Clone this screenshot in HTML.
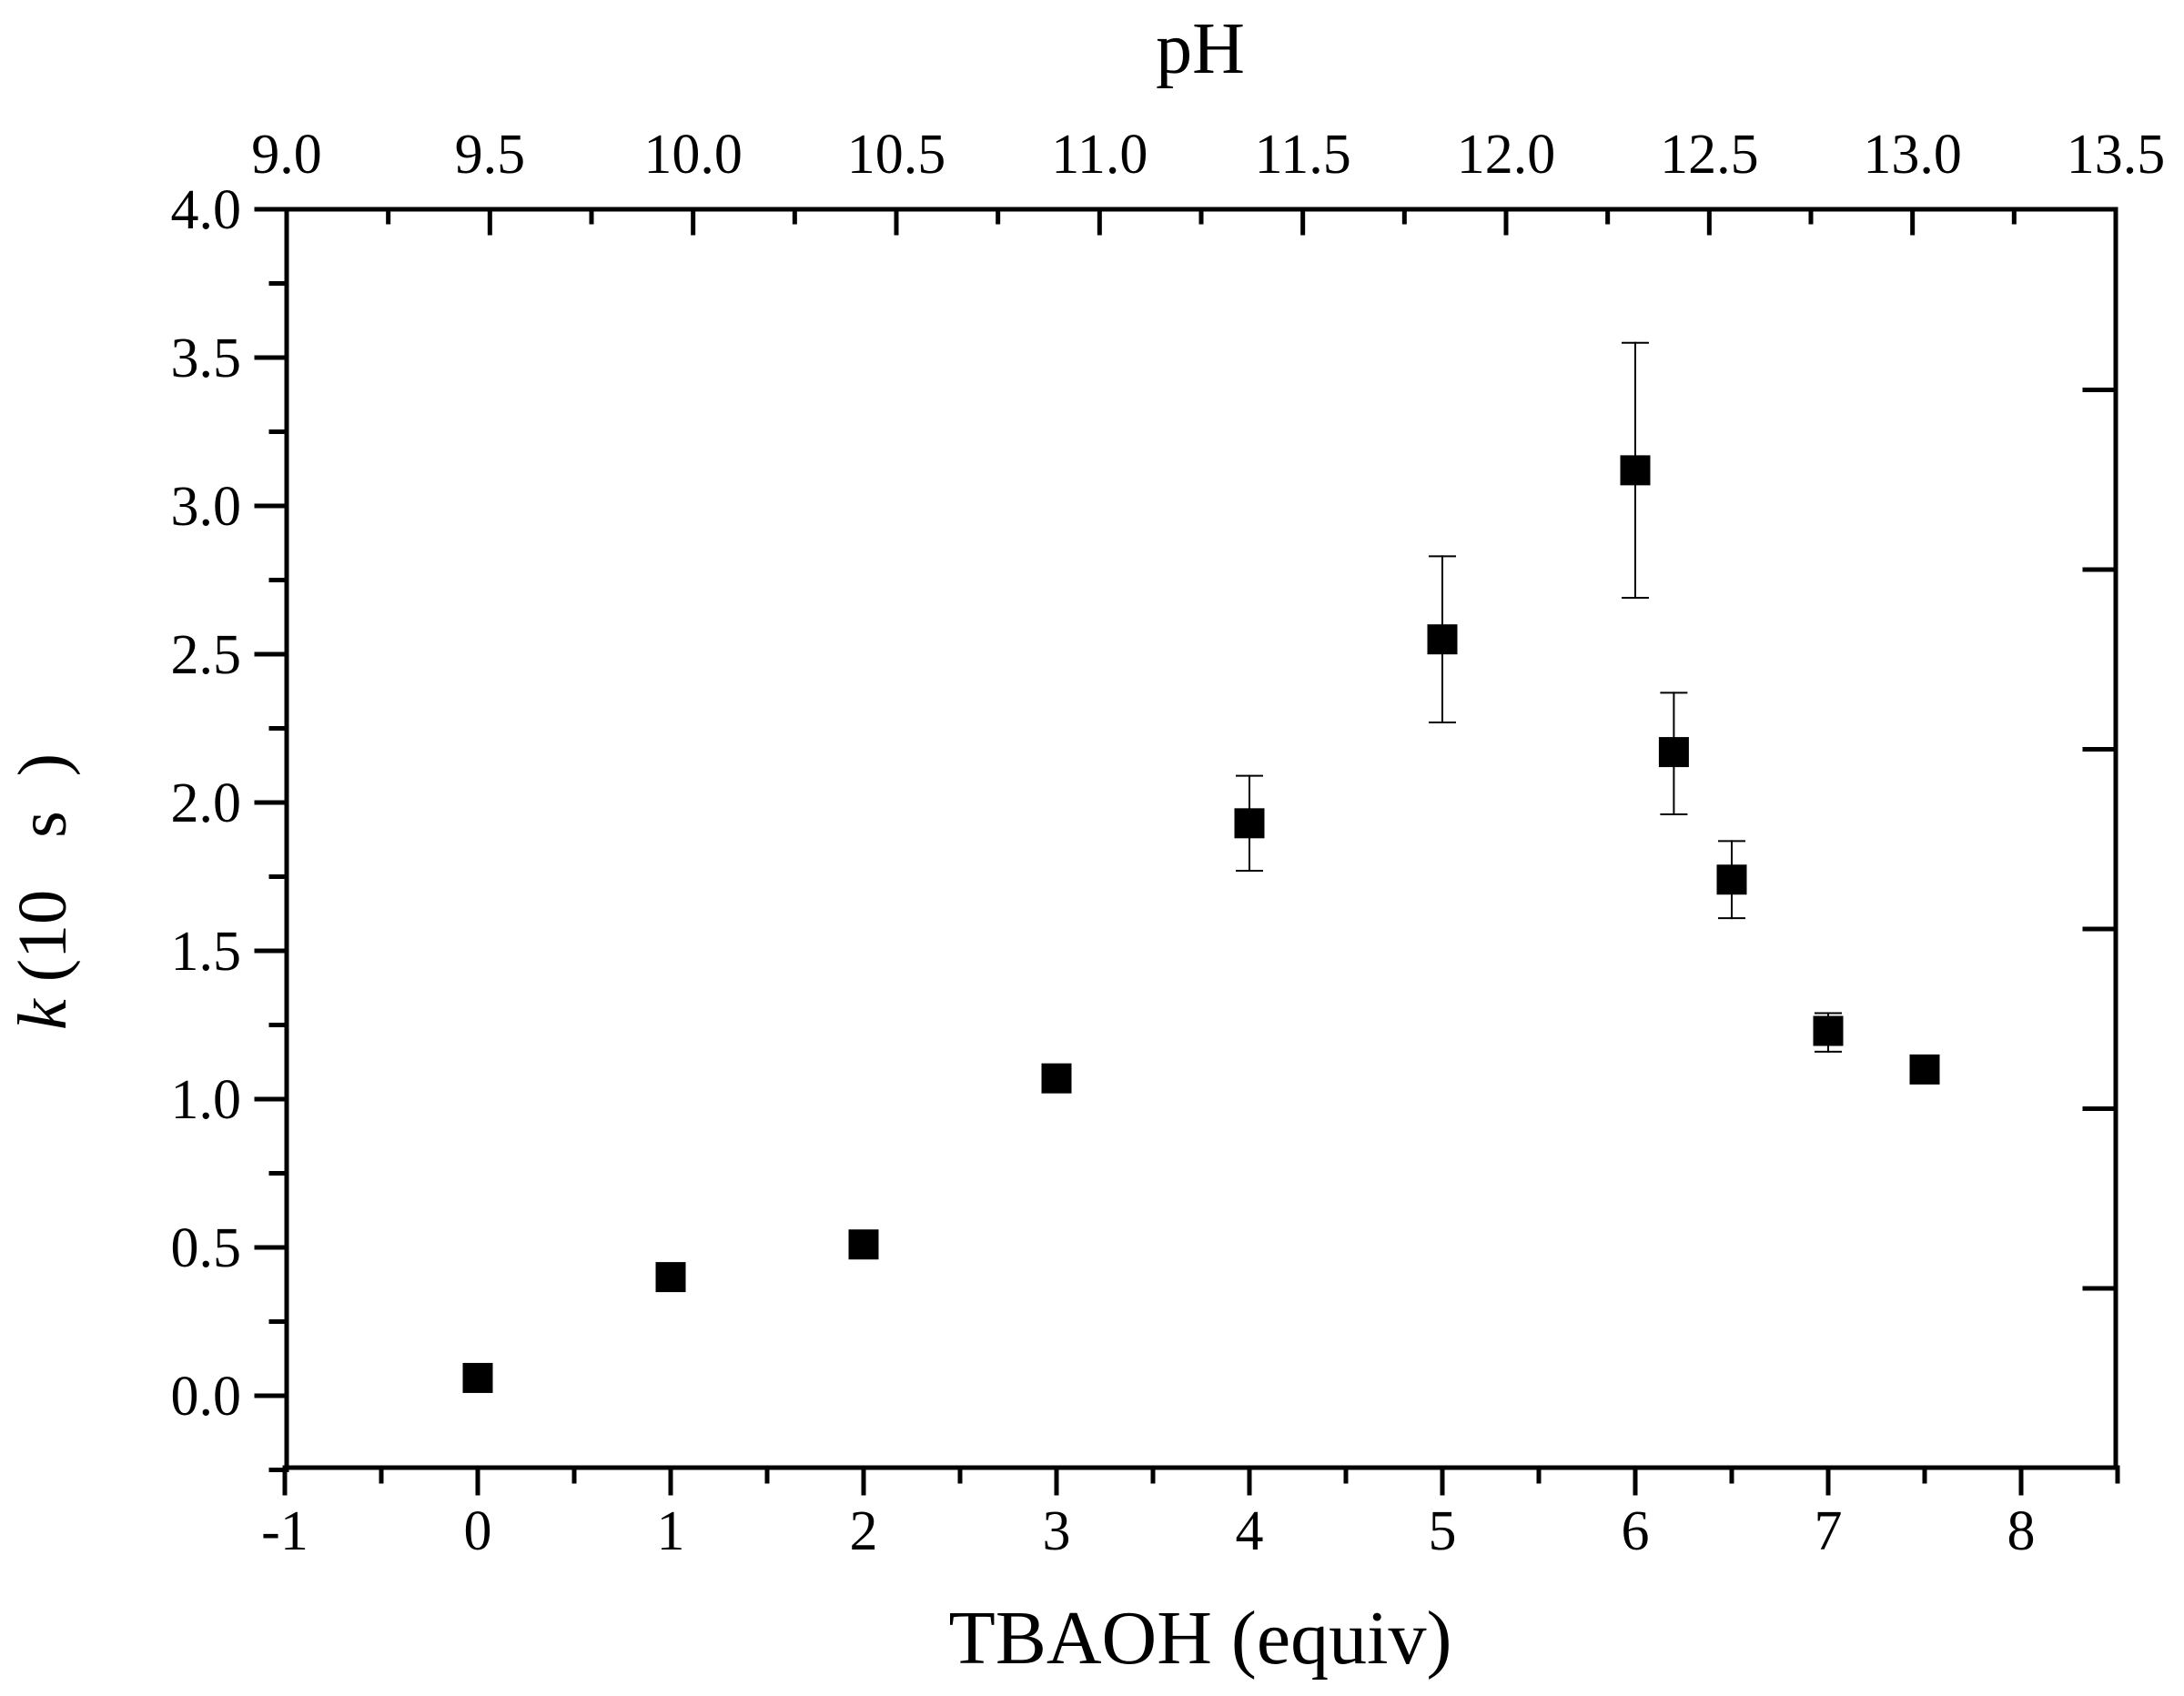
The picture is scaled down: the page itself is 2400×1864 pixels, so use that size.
<!DOCTYPE html>
<html><head><meta charset="utf-8"><style>
html,body{margin:0;padding:0;background:#fff;}
svg{display:block;font-family:"Liberation Serif",serif;}
</style></head><body>
<svg id="chart" width="2400" height="1864" viewBox="0 0 2400 1864" xmlns="http://www.w3.org/2000/svg">
<rect width="2400" height="1864" fill="#fff"/>
<g id="axes"></g>
<g id="marks"></g>
<text x="1319" y="1828" font-size="84" text-anchor="middle">TBAOH (equiv)</text>
<text x="1319" y="80" font-size="80" text-anchor="middle">pH</text>
<text transform="translate(72,980) rotate(-90)" font-size="76" text-anchor="middle" xml:space="preserve"><tspan font-style="italic">k</tspan> (10   s  )</text>
</svg>
<script>
const xCats = [0, 1, 2, 3, 4, 5, 6, 6.2, 6.5, 7, 7.5];
const kVals = [0.06, 0.40, 0.51, 1.07, 1.93, 2.55, 3.12, 2.17, 1.74, 1.23, 1.10];
const errUp = [0, 0, 0, 0.02, 0.16, 0.28, 0.43, 0.20, 0.13, 0.06, 0];
const errDn = [0, 0, 0, 0.02, 0.16, 0.28, 0.43, 0.21, 0.13, 0.07, 0];
const xTicks = [-1, 0, 1, 2, 3, 4, 5, 6, 7, 8];
const yTicks = [0.0, 0.5, 1.0, 1.5, 2.0, 2.5, 3.0, 3.5, 4.0];
const pHTicks = [9.0, 9.5, 10.0, 10.5, 11.0, 11.5, 12.0, 12.5, 13.0, 13.5];
const rightTicks = [0, 1, 2, 3, 4, 5];

const L = 315, R = 2325, T = 230, B = 1613;
const X = v => 313 + (v + 1) * 212.0;
const Y = v => 1534 - v * 326;
const PX = p => L + (p - 9) / 4.5 * (R - L);
const RY = i => 1416 - i * 197.5;
const NS = 'http://www.w3.org/2000/svg';
const axes = document.getElementById('axes');
const marks = document.getElementById('marks');
function line(g, x1, y1, x2, y2, w, name) {
  const l = document.createElementNS(NS, 'line');
  l.setAttribute('x1', x1); l.setAttribute('y1', y1);
  l.setAttribute('x2', x2); l.setAttribute('y2', y2);
  l.setAttribute('stroke', '#000'); l.setAttribute('stroke-width', w);
  l.setAttribute('stroke-linecap', 'square');
  
  
  g.appendChild(l); return l;
}
function text(g, x, y, s, anchor, name) {
  const t = document.createElementNS(NS, 'text');
  t.setAttribute('x', x); t.setAttribute('y', y);
  t.setAttribute('font-size', '62');
  t.setAttribute('text-anchor', anchor);
  t.textContent = s;
  
  
  g.appendChild(t); return t;
}
const fr = document.createElementNS(NS, 'rect');
fr.setAttribute('x', L); fr.setAttribute('y', T);
fr.setAttribute('width', R - L); fr.setAttribute('height', B - T);
fr.setAttribute('fill', 'none'); fr.setAttribute('stroke', '#000'); fr.setAttribute('stroke-width', 5);


axes.appendChild(fr);
for (let v = -0.25; v <= 4.001; v += 0.25) {
  const major = Math.abs(v * 2 - Math.round(v * 2)) < 1e-6;
  line(axes, L - (major ? 33 : 17), Y(v), L, Y(v), 5, major ? 'y-major-tick' : 'y-minor-tick');
}
yTicks.forEach(v => text(axes, L - 50, Y(v) + 21, v.toFixed(1), 'end', 'y-tick-label'));
for (let v = -1; v <= 8.5; v += 0.5) {
  const major = Number.isInteger(v);
  line(axes, X(v), B, X(v), B + (major ? 28 : 15), 5, major ? 'x-major-tick' : 'x-minor-tick');
}
xTicks.forEach(v => text(axes, X(v), 1703, String(v), 'middle', 'x-tick-label'));
for (let p = 9; p <= 13.5; p += 0.25) {
  const major = Math.abs(p * 2 - Math.round(p * 2)) < 1e-6;
  line(axes, PX(p), T, PX(p), T + (major ? 26 : 14), 5, major ? 'ph-major-tick' : 'ph-minor-tick');
}
pHTicks.forEach(p => text(axes, PX(p), 190, p.toFixed(1), 'middle', 'ph-tick-label'));
rightTicks.forEach(i => line(axes, R - 34, RY(i), R, RY(i), 5, 'right-tick'));
xCats.forEach((x, i) => {
  const cx = X(x), cy = Y(kVals[i]);
  if (errUp[i] > 0 || errDn[i] > 0) {
    const yt = Y(kVals[i] + errUp[i]), yb = Y(kVals[i] - errDn[i]);
    line(marks, cx, yt, cx, yb, 2, 'error-bar');
    line(marks, cx - 14, yt, cx + 14, yt, 2, 'error-cap');
    line(marks, cx - 14, yb, cx + 14, yb, 2, 'error-cap');
  }
  const r = document.createElementNS(NS, 'rect');
  r.setAttribute('x', cx - 16.5); r.setAttribute('y', cy - 16.5);
  r.setAttribute('width', 33); r.setAttribute('height', 33);
  r.setAttribute('fill', '#000');
  
  
  marks.appendChild(r);
});
</script>
</body></html>
